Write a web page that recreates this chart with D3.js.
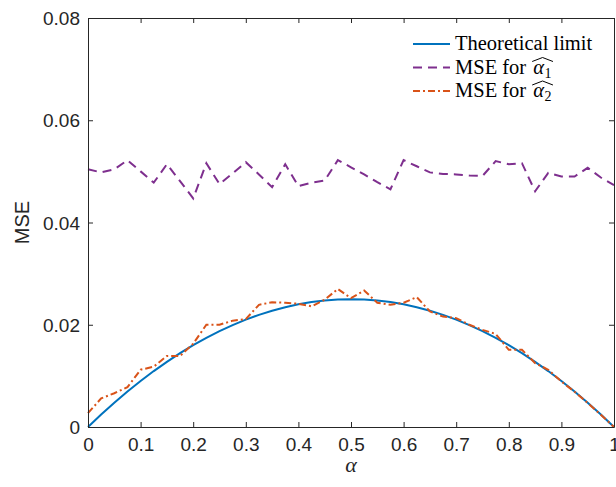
<!DOCTYPE html>
<html>
<head>
<meta charset="utf-8">
<script src="https://cdn.jsdelivr.net/npm/d3@7"></script>
<style>
  body { margin: 0; background: #fff; }
  svg { display: block; }
</style>
</head>
<body>
<svg id="chart" width="616" height="487"></svg>
<script>
// data
const alphaVals = [0, 0.025, 0.05, 0.075, 0.1, 0.125, 0.15, 0.175, 0.2, 0.225,
    0.25, 0.275, 0.3, 0.325, 0.35, 0.375, 0.4, 0.425, 0.45, 0.475,
    0.5, 0.525, 0.55, 0.575, 0.6, 0.625, 0.65, 0.675, 0.7, 0.725,
    0.75, 0.775, 0.8, 0.825, 0.85, 0.875, 0.9, 0.925, 0.95, 0.975, 1];
const theoryMSE = [0, 0.00244, 0.00475, 0.00694, 0.009, 0.01094, 0.01275, 0.01444, 0.016, 0.01744,
    0.01875, 0.01994, 0.021, 0.02194, 0.02275, 0.02344, 0.024, 0.02444, 0.02475, 0.02494,
    0.025, 0.02494, 0.02475, 0.02444, 0.024, 0.02344, 0.02275, 0.02194, 0.021, 0.01994,
    0.01875, 0.01744, 0.016, 0.01444, 0.01275, 0.01094, 0.009, 0.00694, 0.00475, 0.00244, 0];
const mseAlpha1 = [0.0504, 0.0498, 0.0504, 0.0522, 0.0500, 0.0478, 0.0514, 0.0481, 0.0447, 0.0516,
    0.0475, 0.0496, 0.0518, 0.0494, 0.0469, 0.0514, 0.0471, 0.0478, 0.0482, 0.0522,
    0.0508, 0.0494, 0.0479, 0.0465, 0.0522, 0.0510, 0.0498, 0.0495, 0.0494, 0.0492,
    0.0491, 0.0520, 0.0514, 0.0516, 0.0461, 0.0497, 0.0490, 0.0490, 0.0507, 0.0488, 0.0473];
const mseAlpha2 = [0.0027, 0.0056, 0.0066, 0.0078, 0.0112, 0.0118, 0.0139, 0.0139, 0.0163, 0.0200,
    0.0200, 0.0208, 0.0211, 0.0239, 0.0244, 0.0243, 0.0241, 0.0236, 0.0249, 0.0270,
    0.0252, 0.0267, 0.0243, 0.0239, 0.0243, 0.0254, 0.0226, 0.0216, 0.0213, 0.0200,
    0.0190, 0.0182, 0.0151, 0.0151, 0.0125, 0.0112, 0.0089, 0.0069, 0.0047, 0.0024, 0];
const xTicks = [0, 0.1, 0.2, 0.3, 0.4, 0.5, 0.6, 0.7, 0.8, 0.9, 1];
const yTicks = [0, 0.02, 0.04, 0.06, 0.08];
const seriesNames = ['Theoretical limit', 'MSE for', 'MSE for'];
const seriesSubs = [null, '1', '2'];

// layout
const margin = { top: 18, right: 2, bottom: 60, left: 88 };
const width = 616, height = 487;
const innerWidth = width - margin.left - margin.right;
const innerHeight = height - margin.top - margin.bottom;
const axisColor = '#262626';
const colors = ['#0072BD', '#7E2F8E', '#D95319'];
const dashes = [null, '9,6', '7,3,2,3'];

const svg = d3.select('#chart');
const g = svg.append('g').attr('transform', `translate(${margin.left},${margin.top})`);

const xScale = d3.scaleLinear().domain([0, 1]).range([0, innerWidth]);
const yScale = d3.scaleLinear().domain([0, 0.08]).range([innerHeight, 0]);

svg.append('defs').append('clipPath').attr('id', 'plotclip')
    .append('rect').attr('x', -1).attr('y', -1)
    .attr('width', innerWidth + 2).attr('height', innerHeight + 2);

// lines
const series = [theoryMSE, mseAlpha1, mseAlpha2];
const lineGenerator = d3.line()
    .x((d, i) => xScale(alphaVals[i]))
    .y(d => yScale(d));
const lineG = g.append('g').attr('clip-path', 'url(#plotclip)');
series.forEach((s, i) => {
    lineG.append('path')
        .attr('d', lineGenerator(s))
        .attr('fill', 'none')
        .attr('stroke', colors[i])
        .attr('stroke-width', 2)
        .attr('stroke-dasharray', dashes[i]);
});

// axes (MATLAB style: box on, inward ticks)
function styleAxis(sel) {
    sel.selectAll('.domain').attr('stroke', axisColor).attr('stroke-width', 1);
    sel.selectAll('.tick line').attr('stroke', axisColor).attr('stroke-width', 1);
    sel.selectAll('.tick text')
        .attr('fill', axisColor)
        .style('font-family', 'Liberation Sans, Arial, sans-serif')
        .style('font-size', '19px');
}
const xAxis = d3.axisBottom(xScale).tickValues(xTicks).tickSize(-5).tickSizeOuter(0)
    .tickPadding(10).tickFormat(d => String(d));
const xAxisG = g.append('g').attr('transform', `translate(0,${innerHeight})`).call(xAxis).call(styleAxis);
xAxisG.selectAll('.tick text').attr('dy', null).attr('y', 24);
const xAxisTop = d3.axisTop(xScale).tickValues(xTicks).tickSize(-5).tickSizeOuter(0);
g.append('g').call(xAxisTop).call(styleAxis).selectAll('.tick text').remove();
const yAxis = d3.axisLeft(yScale).tickValues(yTicks).tickSize(-5).tickSizeOuter(0)
    .tickPadding(8).tickFormat(d => String(d));
const yAxisG = g.append('g').call(yAxis).call(styleAxis);
yAxisG.selectAll('.tick text').attr('dy', null).attr('y', 6.5);
const yAxisRight = d3.axisRight(yScale).tickValues(yTicks).tickSize(-5).tickSizeOuter(0);
g.append('g').attr('transform', `translate(${innerWidth},0)`).call(yAxisRight).call(styleAxis)
    .selectAll('.tick text').remove();

// axis labels
svg.append('text')
    .attr('transform', `translate(29,${margin.top + innerHeight / 2}) rotate(-90)`)
    .attr('text-anchor', 'middle')
    .attr('fill', axisColor)
    .style('font-family', 'Liberation Sans, Arial, sans-serif')
    .style('font-size', '20px')
    .text('MSE');
svg.append('text')
    .attr('x', margin.left + innerWidth / 2)
    .attr('y', 472)
    .attr('text-anchor', 'middle')
    .attr('fill', axisColor)
    .style('font-family', 'Liberation Serif, Times New Roman, serif')
    .style('font-style', 'italic')
    .style('font-size', '22px')
    .text('α');

// legend
const legX = 413, legY0 = 44, legStep = 23.5;
const serif = 'Liberation Serif, Times New Roman, serif';
seriesNames.forEach((name, i) => {
    const y = legY0 + i * legStep;
    svg.append('line')
        .attr('x1', legX).attr('x2', legX + 37)
        .attr('y1', y).attr('y2', y)
        .attr('stroke', colors[i]).attr('stroke-width', 2)
        .attr('stroke-dasharray', dashes[i]);
    const t = svg.append('text')
        .attr('x', legX + 42).attr('y', y + 6)
        .attr('fill', '#000')
        .style('font-family', serif)
        .style('font-size', '20.5px')
        .text(name);
    if (seriesSubs[i]) {
        const ax = legX + 42 + t.node().getComputedTextLength() + 7;
        const a = svg.append('text')
            .attr('x', ax).attr('y', y + 6)
            .style('font-family', serif)
            .style('font-style', 'italic')
            .style('font-size', '20.5px')
            .text('α');
        const aw = a.node().getComputedTextLength();
        const s = svg.append('text')
            .attr('x', ax + aw + 0.5).attr('y', y + 10)
            .style('font-family', serif)
            .style('font-size', '14px')
            .text(seriesSubs[i]);
        const sw = s.node().getComputedTextLength();
        const hx0 = ax - 1, hx1 = ax + aw + sw + 2, hy = y - 10;
        svg.append('path')
            .attr('d', `M${hx0},${hy + 4} L${(hx0 + hx1) / 2},${hy} L${hx1},${hy + 4}`)
            .attr('fill', 'none')
            .attr('stroke', '#000')
            .attr('stroke-width', 1);
    }
});
</script>
</body>
</html>
